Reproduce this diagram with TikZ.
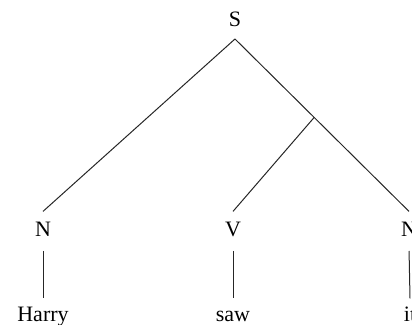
\documentclass[tikz,border=0pt]{standalone}
\usepackage{fontspec}
\setmainfont{Liberation Serif}
\usetikzlibrary{calc}
\begin{document}
\begin{tikzpicture}[x = 0.5pt, y = -0.5pt, font = \fontsize{11}{13}\selectfont,
		cat/.style = {inner sep = 0pt, outer sep = 5.5pt, text height = 7.3pt, text depth = 0pt, anchor = base},
		word/.style = {inner sep = 0pt, outer sep = 4.5pt, text height = 7.3pt, text depth = 0pt, anchor = base},
		branch/.style = {line width = 0.5pt, black!85}]
		\useasboundingbox (0,0) rectangle (412,325);
		\node [cat, outer sep = 6pt] (S) at (235,27) {S};
		\node [cat] (N1) at (43,237) {N};
		\node [cat] (V) at (233,237) {V};
		\node [cat] (N2) at (409,237) {N};
		\node [word] (harry) at (43,322) {Harry};
		\node [word] (saw) at (233,322) {saw};
		\node [word] (it) at (410,322) {it};
		\draw [branch] (S.south) -- (N1.north);
		\draw [branch] (S.south) -- (N2.north);
		\coordinate (vp) at ($(S.south)!0.455!(N2.north)$);
		\draw [branch] (vp) -- (V.north);
		\draw [branch, shorten < = 1.5pt] (N1.south) -- (harry.north);
		\draw [branch, shorten < = 1.5pt] (V.south) -- (saw.north);
		\draw [branch, shorten < = 1.5pt] (N2.south) -- (it.north);
	\end{tikzpicture}
\end{document}
